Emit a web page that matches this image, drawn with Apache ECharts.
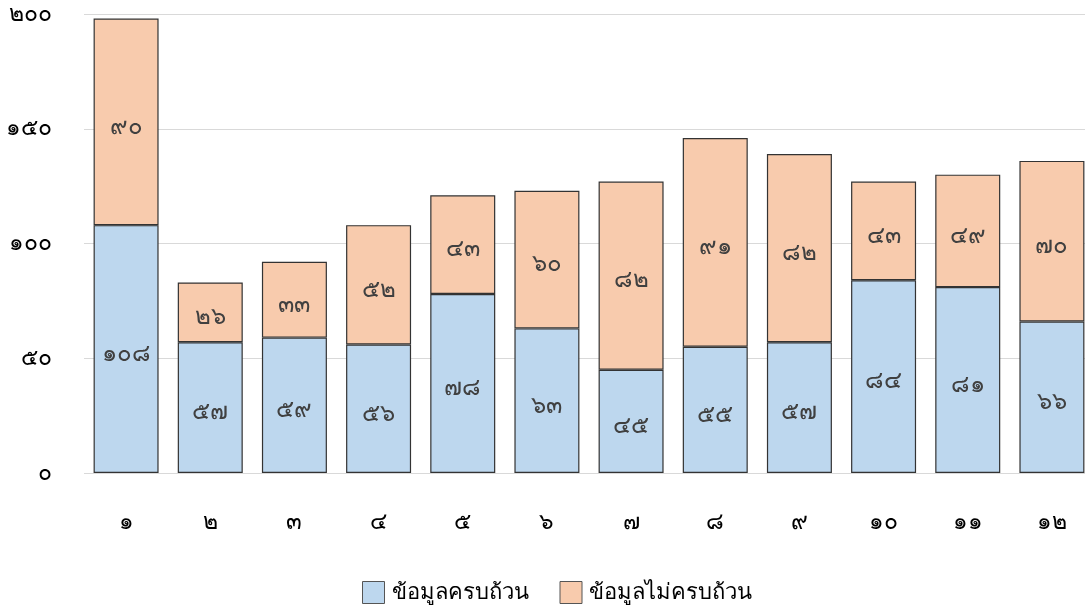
<!DOCTYPE html>
<html>
<head>
<meta charset="utf-8">
<script src="https://cdn.jsdelivr.net/npm/echarts@6/dist/echarts.min.js"></script>
<style>
  html, body { margin: 0; padding: 0; background: #fff; overflow: hidden; }
  #chart { width: 1110px; height: 612px; }
</style>
</head>
<body>
<div id="chart"></div>
<script>
// หมวดหมู่ (แกน x)
var categories = ['๑', '๒', '๓', '๔', '๕', '๖', '๗', '๘', '๙', '๑๐', '๑๑', '๑๒'];
var seriesNames = ['ข้อมูลครบถ้วน', 'ข้อมูลไม่ครบถ้วน'];
var completeData = [108, 57, 59, 56, 78, 63, 45, 55, 57, 84, 81, 66];
var incompleteData = [90, 26, 33, 52, 43, 60, 82, 91, 82, 43, 49, 70];
var yTicks = [0, 50, 100, 150, 200];

var thaiDigits = ['๐', '๑', '๒', '๓', '๔', '๕', '๖', '๗', '๘', '๙'];
//เลขอารบิก -> เลขไทย
function toThai(n) {
    return String(n).replace(/[0-9]/g, function(d) { return thaiDigits[+d]; });
}

var FONT = '"Noto Sans", "DejaVu Sans", sans-serif';
var myChart = echarts.init(document.getElementById('chart'));

function makeSeries(name, data, color) {
    return {
        name: name,
        type: 'bar',
        stack: 'total',
        barWidth: 65,
        data: data,
        itemStyle: {
            color: color,
            borderColor: '#333',
            borderWidth: 1.2
        },
        label: {
            show: true,
            position: 'inside',
            offset: [0, 5],
            color: '#404040',
            fontSize: 24,
            fontFamily: FONT,
            formatter: function(p) { return toThai(p.value); }
        }
    };
}

var option = {
    animation: false,
    grid: {
        left: 84,
        top: 14,
        width: 1010,
        height: 459,
        containLabel: false
    },
    legend: {
        top: 576,
        left: 357,
        icon: 'rect',
        itemWidth: 22,
        itemHeight: 22,
        itemGap: 31,
        itemStyle: { borderColor: '#555', borderWidth: 1 },
        textStyle: { fontSize: 22, color: '#000', fontFamily: FONT, padding: [0, 0, 0, 2] },
        data: seriesNames
    },
    xAxis: {
        type: 'category',
        data: categories,
        axisLine: { show: false },
        axisTick: { show: false },
        axisLabel: { fontSize: 23, color: '#000', margin: 38, fontFamily: FONT }
    },
    yAxis: {
        type: 'value',
        min: yTicks[0],
        max: yTicks[yTicks.length - 1],
        interval: 50,
        axisLine: { show: false },
        axisTick: { show: false },
        splitLine: { lineStyle: { color: '#d9d9d9', width: 1 } },
        axisLabel: {
            fontSize: 23,
            color: '#000',
            margin: 32,
            fontFamily: FONT,
            formatter: function(v) { return toThai(v); }
        }
    },
    series: [
        makeSeries(seriesNames[0], completeData, '#BDD7EE'),
        makeSeries(seriesNames[1], incompleteData, '#F8CBAD')
    ]
};

myChart.setOption(option);
</script>
</body>
</html>
